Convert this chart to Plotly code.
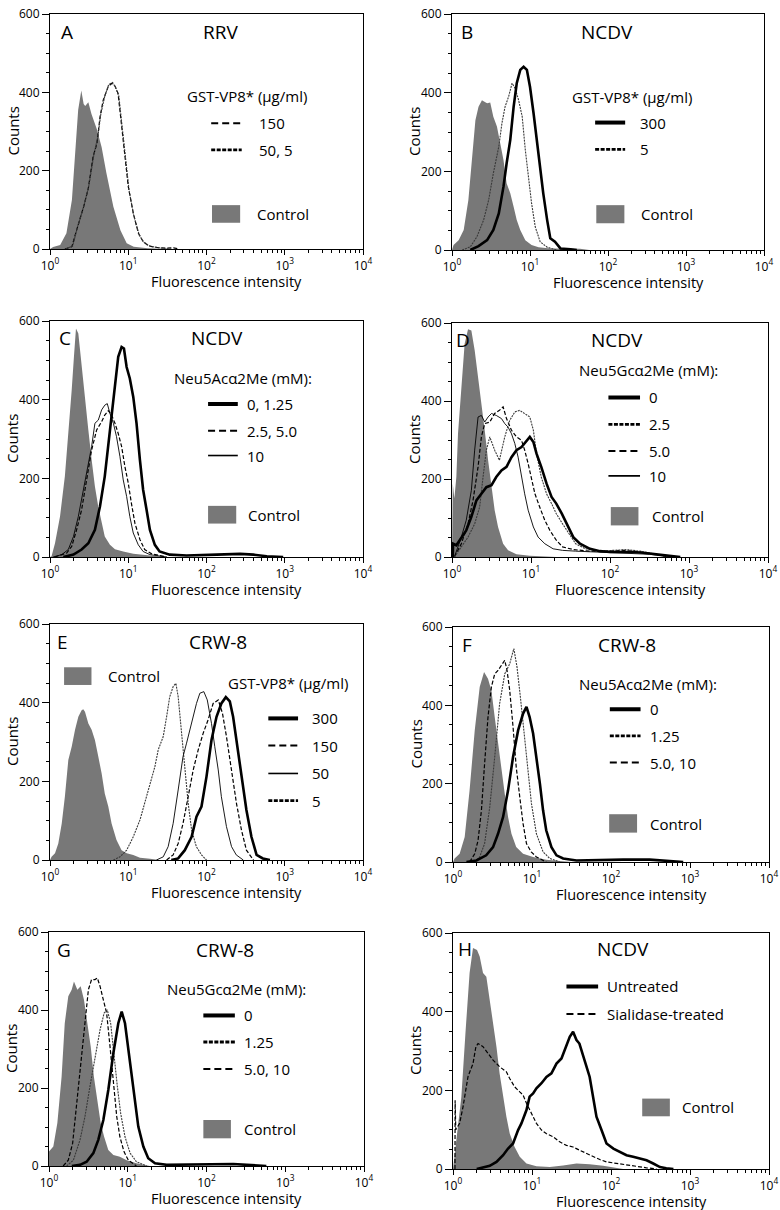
import plotly.graph_objects as go

# ---------------- DATA (log10 fluorescence, counts) ----------------
A_control = [(0.00,0),(0.04,5),(0.13,10),(0.21,40),(0.28,125),(0.32,250),(0.36,355),(0.40,405),(0.43,370),(0.45,365),(0.49,375),(0.53,345),(0.60,305),(0.66,260),(0.72,195),(0.81,108),(0.90,48),(0.98,15),(1.07,6),(1.25,2),(1.50,0)]
A_150 = [(0.19,0),(0.28,6),(0.34,48),(0.43,108),(0.49,155),(0.55,235),(0.60,270),(0.64,338),(0.68,380),(0.745,415),(0.79,423),(0.83,416),(0.87,397),(0.92,312),(0.96,236),(1.00,160),(1.065,91),(1.13,40),(1.19,19),(1.26,8),(1.36,4),(1.49,2),(1.58,3),(1.65,0)]
A_50_5 = [(0.20,0),(0.29,8),(0.35,55),(0.44,115),(0.50,165),(0.56,240),(0.61,285),(0.65,345),(0.70,390),(0.75,420),(0.80,425),(0.84,412),(0.88,390),(0.93,300),(0.97,225),(1.01,150),(1.07,85),(1.14,36),(1.20,17),(1.28,7),(1.40,3),(1.55,0)]

B_control = [(0.00,0),(0.02,13),(0.085,25),(0.15,51),(0.21,127),(0.256,237),(0.30,330),(0.34,364),(0.384,381),(0.405,378),(0.45,373),(0.49,375),(0.53,339),(0.576,314),(0.62,271),(0.66,229),(0.70,170),(0.747,144),(0.79,110),(0.83,76),(0.875,51),(0.94,25),(1.02,13),(1.11,7),(1.26,4),(1.64,3),(1.76,0)]
B_5 = [(0.13,0),(0.235,8),(0.32,34),(0.405,76),(0.47,127),(0.53,195),(0.60,263),(0.64,322),(0.68,364),(0.726,390),(0.77,424),(0.81,411),(0.854,381),(0.90,339),(0.94,254),(0.98,186),(1.02,119),(1.067,59),(1.13,21),(1.22,7),(1.35,0)]
B_300 = [(0.235,0),(0.34,10),(0.45,25),(0.53,51),(0.60,93),(0.66,161),(0.70,220),(0.747,280),(0.79,364),(0.83,424),(0.875,458),(0.918,466),(0.96,458),(1.00,415),(1.046,347),(1.09,271),(1.13,212),(1.17,144),(1.22,76),(1.26,30),(1.32,21),(1.39,4),(1.52,2),(1.60,0)]

C_control = [(0.00,0),(0.02,2),(0.064,35),(0.128,103),(0.19,205),(0.234,306),(0.277,424),(0.306,509),(0.332,581),(0.362,568),(0.404,483),(0.447,399),(0.49,323),(0.532,247),(0.574,179),(0.617,128),(0.66,86),(0.70,52),(0.766,31),(0.83,20),(0.936,14),(1.064,8),(1.28,4),(1.49,0)]
C_10 = [(0.04,0),(0.15,6),(0.234,19),(0.30,52),(0.362,103),(0.425,171),(0.477,230),(0.532,281),(0.574,340),(0.617,348),(0.66,374),(0.70,386),(0.732,390),(0.766,365),(0.81,340),(0.85,306),(0.894,255),(0.936,196),(0.979,154),(1.02,103),(1.064,61),(1.128,31),(1.19,14),(1.277,6),(1.49,0)]
C_2_5 = [(0.06,0),(0.213,10),(0.277,27),(0.34,69),(0.404,120),(0.468,196),(0.532,272),(0.596,323),(0.66,344),(0.70,361),(0.745,372),(0.787,361),(0.83,340),(0.872,314),(0.915,281),(0.957,230),(1.0,188),(1.04,137),(1.085,86),(1.15,44),(1.21,19),(1.30,8),(1.49,0)]
C_0 = [(0.17,0),(0.30,6),(0.404,19),(0.49,35),(0.574,69),(0.638,128),(0.70,205),(0.766,323),(0.83,433),(0.872,509),(0.915,534),(0.945,530),(0.979,483),(1.02,454),(1.064,407),(1.106,340),(1.149,247),(1.19,171),(1.234,120),(1.277,69),(1.34,31),(1.40,14),(1.53,6),(1.745,4),(2.13,6),(2.43,8),(2.6,6),(2.77,2),(2.98,0)]

D_control = [(0.00,0),(0.01,188),(0.03,150),(0.055,205),(0.076,316),(0.118,444),(0.16,547),(0.203,584),(0.245,581),(0.287,530),(0.33,461),(0.372,402),(0.414,325),(0.457,248),(0.50,179),(0.54,120),(0.583,77),(0.647,34),(0.71,17),(0.816,7),(0.985,3),(1.32,0)]
D_0 = [(0.01,0),(0.013,34),(0.055,30),(0.118,51),(0.18,68),(0.245,103),(0.309,145),(0.372,162),(0.435,179),(0.50,184),(0.56,205),(0.626,222),(0.69,231),(0.753,256),(0.816,274),(0.88,282),(0.943,299),(0.985,308),(1.03,295),(1.07,265),(1.13,231),(1.197,188),(1.26,154),(1.32,137),(1.39,111),(1.45,85),(1.535,51),(1.62,34),(1.746,21),(1.873,15),(2.0,13),(2.17,13),(2.3,13),(2.42,11),(2.59,7),(2.8,3),(2.89,0)]
D_2_5 = [(0.03,0),(0.118,26),(0.203,51),(0.287,85),(0.35,128),(0.393,205),(0.435,274),(0.478,308),(0.54,274),(0.60,248),(0.668,308),(0.73,350),(0.795,372),(0.858,376),(0.92,368),(0.985,359),(1.03,325),(1.07,265),(1.13,205),(1.197,162),(1.26,137),(1.32,111),(1.40,85),(1.48,60),(1.565,34),(1.69,21),(1.87,15),(2.04,17),(2.21,19),(2.38,15),(2.55,9),(2.76,0)]
D_5 = [(0.03,0),(0.118,34),(0.203,85),(0.266,145),(0.33,231),(0.372,308),(0.414,342),(0.478,346),(0.54,368),(0.60,376),(0.647,385),(0.69,355),(0.753,325),(0.816,308),(0.88,299),(0.92,274),(0.964,239),(1.006,205),(1.05,162),(1.11,128),(1.175,94),(1.24,68),(1.32,43),(1.40,26),(1.535,19),(1.746,15),(1.96,15),(2.17,17),(2.38,13),(2.59,6),(2.76,0)]
D_10 = [(0.03,0),(0.118,51),(0.18,94),(0.245,171),(0.287,274),(0.33,359),(0.372,363),(0.414,346),(0.457,359),(0.50,368),(0.56,363),(0.626,355),(0.668,342),(0.71,333),(0.753,316),(0.795,291),(0.837,256),(0.88,205),(0.92,162),(0.964,120),(1.03,77),(1.09,51),(1.175,34),(1.28,21),(1.40,17),(1.565,15),(1.82,13),(2.17,11),(2.5,7),(2.76,0)]

E_control = [(0.00,0),(0.02,8),(0.064,17),(0.106,42),(0.15,93),(0.19,161),(0.234,254),(0.277,288),(0.32,331),(0.362,364),(0.404,381),(0.425,383),(0.447,377),(0.49,347),(0.532,331),(0.574,305),(0.617,263),(0.66,220),(0.70,169),(0.745,136),(0.787,93),(0.85,51),(0.915,25),(0.98,17),(1.064,13),(1.15,6),(1.277,3),(1.40,0)]
E_5 = [(0.81,0),(0.894,8),(0.98,25),(1.064,59),(1.15,102),(1.21,144),(1.277,186),(1.34,237),(1.383,280),(1.447,314),(1.49,364),(1.53,415),(1.574,441),(1.609,449),(1.638,415),(1.68,331),(1.723,246),(1.766,144),(1.81,76),(1.87,34),(1.936,13),(2.0,0)]
E_50 = [(1.36,0),(1.447,8),(1.51,34),(1.574,93),(1.638,178),(1.70,263),(1.745,297),(1.787,331),(1.83,364),(1.872,398),(1.915,424),(1.966,428),(2.01,407),(2.064,347),(2.106,288),(2.15,229),(2.19,161),(2.255,85),(2.32,34),(2.38,13),(2.47,0)]
E_150 = [(1.49,0),(1.574,13),(1.638,42),(1.70,93),(1.766,161),(1.83,229),(1.894,280),(1.957,322),(2.02,356),(2.085,398),(2.15,407),(2.204,373),(2.255,314),(2.32,229),(2.383,144),(2.447,76),(2.51,25),(2.6,0)]
E_300 = [(1.55,0),(1.638,4),(1.723,25),(1.81,59),(1.872,110),(1.936,136),(2.0,212),(2.064,305),(2.128,364),(2.19,398),(2.247,414),(2.298,403),(2.34,364),(2.39,297),(2.447,212),(2.51,127),(2.574,59),(2.64,13),(2.72,4),(2.81,0)]

F_control = [(0.00,0),(0.02,9),(0.084,21),(0.148,64),(0.21,183),(0.275,336),(0.338,447),(0.393,485),(0.443,468),(0.486,438),(0.528,370),(0.57,302),(0.61,234),(0.655,174),(0.697,115),(0.74,72),(0.80,38),(0.887,21),(1.014,13),(1.18,6),(1.39,2),(1.5,0)]
F_5_10 = [(0.21,0),(0.275,21),(0.317,55),(0.36,132),(0.40,251),(0.443,370),(0.486,447),(0.528,480),(0.57,489),(0.61,502),(0.655,515),(0.684,489),(0.718,438),(0.76,345),(0.80,243),(0.845,166),(0.887,98),(0.93,47),(0.99,26),(1.056,13),(1.18,0)]
F_1_25 = [(0.275,0),(0.338,13),(0.40,47),(0.465,140),(0.528,268),(0.59,404),(0.655,480),(0.718,506),(0.77,545),(0.81,498),(0.853,421),(0.895,336),(0.938,243),(0.993,149),(1.056,72),(1.14,26),(1.225,9),(1.35,0)]
F_0 = [(0.17,0),(0.296,4),(0.42,17),(0.507,38),(0.57,72),(0.634,115),(0.697,183),(0.76,268),(0.824,336),(0.887,379),(0.93,396),(0.97,370),(1.014,328),(1.056,268),(1.10,200),(1.14,132),(1.18,81),(1.246,38),(1.31,17),(1.394,9),(1.563,4),(2.154,6),(2.49,6),(2.914,0)]

G_control = [(0.00,37),(0.055,50),(0.106,110),(0.16,229),(0.20,366),(0.245,435),(0.288,452),(0.317,473),(0.36,452),(0.402,461),(0.444,426),(0.487,366),(0.53,306),(0.57,229),(0.614,161),(0.656,110),(0.70,75),(0.753,41),(0.817,28),(0.90,24),(0.986,15),(1.11,7),(1.28,0)]
G_5_10 = [(0.18,0),(0.245,15),(0.30,58),(0.35,161),(0.406,272),(0.457,383),(0.50,452),(0.54,478),(0.584,478),(0.614,482),(0.648,461),(0.69,426),(0.732,392),(0.775,306),(0.817,212),(0.86,127),(0.90,75),(0.952,37),(1.007,15),(1.11,0)]
G_1_25 = [(0.224,0),(0.31,15),(0.394,67),(0.457,127),(0.52,204),(0.584,281),(0.648,349),(0.70,392),(0.74,400),(0.783,366),(0.825,281),(0.868,204),(0.91,135),(0.965,75),(1.03,33),(1.11,11),(1.24,0)]
G_0 = [(0.29,0),(0.394,3),(0.478,11),(0.563,33),(0.626,67),(0.69,118),(0.753,195),(0.817,289),(0.88,366),(0.923,396),(0.965,366),(1.007,298),(1.05,229),(1.092,161),(1.134,101),(1.198,50),(1.26,20),(1.346,7),(1.494,3),(2.34,5),(2.76,0)]

H_control = [(0.00,0),(0.042,73),(0.106,184),(0.16,353),(0.21,498),(0.253,562),(0.304,557),(0.338,540),(0.38,498),(0.422,489),(0.465,430),(0.507,370),(0.55,311),(0.59,243),(0.634,184),(0.676,133),(0.718,90),(0.78,56),(0.845,31),(0.93,14),(1.056,7),(1.225,5),(1.394,9),(1.563,14),(1.73,12),(1.90,8),(2.154,0)]
H_sialidase = [(0.025,0),(0.027,175),(0.035,100),(0.084,116),(0.127,158),(0.19,235),(0.253,268),(0.29,311),(0.317,319),(0.38,311),(0.443,294),(0.507,277),(0.59,260),(0.676,247),(0.718,230),(0.78,209),(0.845,196),(0.887,188),(0.93,167),(0.993,141),(1.056,116),(1.12,99),(1.18,90),(1.267,82),(1.35,69),(1.436,60),(1.52,56),(1.60,48),(1.69,39),(1.774,31),(1.858,24),(1.943,18),(2.07,14),(2.20,9),(2.323,7),(2.45,3),(2.577,0)]
H_untreated = [(0.30,0),(0.38,3),(0.465,8),(0.55,18),(0.634,35),(0.697,52),(0.76,65),(0.824,99),(0.866,116),(0.93,150),(0.97,184),(1.014,192),(1.056,205),(1.12,218),(1.183,234),(1.246,243),(1.31,268),(1.373,281),(1.43,311),(1.478,336),(1.52,349),(1.563,328),(1.60,319),(1.647,285),(1.69,260),(1.73,234),(1.774,184),(1.816,133),(1.88,99),(1.943,65),(2.03,52),(2.11,43),(2.196,35),(2.28,31),(2.365,26),(2.45,22),(2.534,14),(2.62,5),(2.70,2),(2.79,0)]

X_TICKS = [1, 10, 100, 1000, 10000]
X_TICKTEXT = ["10<sup>0</sup>", "10<sup>1</sup>", "10<sup>2</sup>", "10<sup>3</sup>", "10<sup>4</sup>"]
X_MINOR = [m * d for d in (1, 10, 100, 1000) for m in range(2, 10)]
Y_TICKS = [0, 200, 400, 600]

# ---------------- PANEL SPECS ----------------
# box: plot area in pixels (x0, x1, y0, y1)
PANELS = [
    dict(letter="A", title="RRV", box=(50, 363, 14, 249), lt=(0.12, 553), tt=(2.18, 553),
         control=A_control, curves=[(A_150, "dash"), (A_50_5, "dot")],
         leg_title=("GST-VP8* (μg/ml)", 2.52, 390), leg_x=(2.06, 2.45, 2.64),
         entries=[("dash", 321, "150"), ("dot", 253, "50, 5")],
         ctrl=(2.07, 2.43, 67, 112, 2.62, 90)),
    dict(letter="B", title="NCDV", box=(452, 764, 14, 250), lt=(0.085, 553), tt=(1.99, 553),
         control=B_control, curves=[(B_5, "dot"), (B_300, "thick")],
         leg_title=("GST-VP8* (μg/ml)", 2.305, 390), leg_x=(1.835, 2.22, 2.39),
         entries=[("thick", 324, "300"), ("dot", 256, "5")],
         ctrl=(1.85, 2.21, 68, 114, 2.40, 91)),
    dict(letter="C", title="NCDV", box=(50, 363, 321, 557), lt=(0.085, 558), tt=(2.13, 558),
         control=C_control, curves=[(C_10, "thin"), (C_2_5, "dash"), (C_0, "thick")],
         leg_title=("Neu5Acα2Me (mM):", 2.47, 456), leg_x=(2.02, 2.40, 2.49),
         entries=[("thick", 389, "0, 1.25"), ("dash", 321, "2.5, 5.0"), ("thin", 258, "10")],
         ctrl=(2.02, 2.38, 85, 130, 2.50, 108)),
    dict(letter="D", title="NCDV", box=(452, 768, 323, 557), lt=(0.02, 557), tt=(2.085, 557),
         control=D_control, curves=[(D_10, "thin"), (D_5, "dash"), (D_2_5, "dot"), (D_0, "thick")],
         leg_title=("Neu5Gcα2Me (mM):", 2.486, 479), leg_x=(1.98, 2.38, 2.465),
         entries=[("thick", 409, "0"), ("dot", 340, "2.5"), ("dash", 272, "5.0"), ("thin", 208, "10")],
         ctrl=(2.01, 2.36, 81, 128, 2.50, 105)),
    dict(letter="E", title="CRW-8", box=(50, 363, 624, 860), lt=(0.064, 555), tt=(2.15, 555),
         control=E_control, curves=[(E_5, "dot"), (E_50, "thin"), (E_150, "dash"), (E_300, "thick")],
         leg_title=("GST-VP8* (μg/ml)", 3.04, 451), leg_x=(2.79, 3.17, 3.32),
         entries=[("thick", 360, "300"), ("dash", 291, "150"), ("thin", 220, "50"), ("dot", 151, "5")],
         ctrl=(0.18, 0.53, 445, 490, 0.72, 467)),
    dict(letter="F", title="CRW-8", box=(453, 769, 627, 862), lt=(0.084, 553), tt=(2.2, 553),
         control=F_control, curves=[(F_5_10, "dash"), (F_1_25, "dot"), (F_0, "thick")],
         leg_title=("Neu5Acα2Me (mM):", 2.47, 454), leg_x=(1.985, 2.374, 2.47),
         entries=[("thick", 390, "0"), ("dot", 322, "1.25"), ("dash", 254, "5.0, 10")],
         ctrl=(1.977, 2.33, 75, 122, 2.47, 98)),
    dict(letter="G", title="CRW-8", box=(49, 364, 932, 1166), lt=(0.076, 555), tt=(2.235, 555),
         control=G_control, curves=[(G_5_10, "dash"), (G_1_25, "dot"), (G_0, "thick")],
         leg_title=("Neu5Gcα2Me (mM):", 2.383, 455), leg_x=(1.96, 2.36, 2.447),
         entries=[("thick", 386, "0"), ("dot", 318, "1.25"), ("dash", 249, "5.0, 10")],
         ctrl=(1.96, 2.31, 71, 118, 2.447, 95)),
    dict(letter="H", title="NCDV", box=(453, 769, 933, 1169), lt=(0.042, 559), tt=(2.154, 559),
         control=H_control, curves=[(H_sialidase, "dash"), (H_untreated, "thick")],
         leg_title=None, leg_x=(1.436, 1.837, 1.92),
         entries=[("thick", 464, "Untreated"), ("dash", 394, "Sialidase-treated")],
         ctrl=(2.395, 2.745, 134, 179, 2.87, 157)),
]

W, H = 780, 1210
FONT = "Open Sans"
CURVE_STYLE = {
    "thick": dict(width=2.6, dash="solid", color="black"),
    "dash": dict(width=1.2, dash="4px,2px", color="black"),
    "dot": dict(width=1.1, dash="2px,1px", color="#3a3a3a"),
    "thin": dict(width=0.9, dash="solid", color="black"),
}
LEG_STYLE = {
    "thick": dict(width=4, dash="solid", color="black"),
    "dash": dict(width=2, dash="7px,4px", color="black"),
    "dot": dict(width=2.8, dash="4px,1.5px", color="black"),
    "thin": dict(width=1.6, dash="solid", color="black"),
}
CTRL_COLOR = "#787878"

fig = go.Figure()
shapes, annotations = [], []

for i, p in enumerate(PANELS):
    n = i + 1
    sx = "" if n == 1 else str(n)
    xref, yref = "x" + sx, "y" + sx
    x0, x1, y0, y1 = p["box"]

    # control histogram (filled)
    fig.add_trace(go.Scatter(
        x=[10 ** lx for lx, _ in p["control"]], y=[c for _, c in p["control"]],
        mode="lines", fill="tozeroy", fillcolor=CTRL_COLOR,
        line=dict(width=0, color=CTRL_COLOR), xaxis=xref, yaxis=yref, showlegend=False))
    for pts, sty in p["curves"]:
        fig.add_trace(go.Scatter(
            x=[10 ** lx for lx, _ in pts], y=[c for _, c in pts],
            mode="lines", line=CURVE_STYLE[sty], xaxis=xref, yaxis=yref, showlegend=False))

    fig.layout["xaxis" + sx] = dict(
        domain=[x0 / W, x1 / W], anchor=yref, type="log", range=[0, 4],
        tickmode="array", tickvals=X_TICKS, ticktext=X_TICKTEXT,
        ticks="outside", ticklen=5, tickwidth=1, tickcolor="black",
        minor=dict(tickmode="array", tickvals=X_MINOR, ticks="outside", ticklen=3, tickcolor="black"),
        showline=True, linecolor="black", linewidth=1.2, mirror=True,
        showgrid=False, zeroline=False, automargin=False,
        tickfont=dict(family=FONT, size=12, color="black"))
    fig.layout["yaxis" + sx] = dict(
        domain=[1 - y1 / H, 1 - y0 / H], anchor=xref, range=[0, 600],
        tickmode="array", tickvals=Y_TICKS,
        ticks="outside", ticklen=7, tickwidth=1, tickcolor="black",
        minor=dict(dtick=50, tick0=0, ticks="outside", ticklen=3, tickcolor="black"),
        showline=True, linecolor="black", linewidth=1.2, mirror=True,
        showgrid=False, zeroline=False, automargin=False,
        tickfont=dict(family=FONT, size=12, color="black"))

    xd, yd = xref + " domain", yref + " domain"
    txt = dict(family=FONT, size=15, color="black")
    big = dict(family=FONT, size=19, color="black")

    # axis titles
    annotations.append(dict(text="Fluorescence intensity", xref="paper", yref="paper",
                            x=((x0 + x1) / 2 + 20) / W, y=1 - (y1 + 32) / H,
                            showarrow=False, font=dict(family=FONT, size=14.5, color="black"),
                            xanchor="center", yanchor="middle"))
    annotations.append(dict(text="Counts", xref="paper", yref="paper",
                            x=(x0 - 38) / W, y=1 - ((y0 + y1) / 2) / H, textangle=-90,
                            showarrow=False, font=txt, xanchor="center", yanchor="middle"))
    # panel letter and title
    annotations.append(dict(text=p["letter"], xref=xd, yref=yd, x=p["lt"][0] / 4, y=p["lt"][1] / 600,
                            showarrow=False, font=big, xanchor="left", yanchor="middle"))
    annotations.append(dict(text=p["title"], xref=xd, yref=yd, x=p["tt"][0] / 4, y=p["tt"][1] / 600,
                            showarrow=False, font=big, xanchor="center", yanchor="middle"))
    # legend
    if p["leg_title"]:
        t, lx, ly = p["leg_title"]
        annotations.append(dict(text=t, xref=xd, yref=yd, x=lx / 4, y=ly / 600,
                                showarrow=False, font=txt, xanchor="center", yanchor="middle"))
    la, lb, lt = p["leg_x"]
    for sty, ly, label in p["entries"]:
        shapes.append(dict(type="line", xref=xd, yref=yd, x0=la / 4, x1=lb / 4,
                           y0=ly / 600, y1=ly / 600, line=LEG_STYLE[sty]))
        annotations.append(dict(text=label, xref=xd, yref=yd, x=lt / 4, y=ly / 600,
                                showarrow=False, font=txt, xanchor="left", yanchor="middle"))
    ca, cb, cl, ch, ctx, cty = p["ctrl"]
    shapes.append(dict(type="rect", xref=xd, yref=yd, x0=ca / 4, x1=cb / 4,
                       y0=cl / 600, y1=ch / 600, fillcolor=CTRL_COLOR, line=dict(width=0)))
    annotations.append(dict(text="Control", xref=xd, yref=yd, x=ctx / 4, y=cty / 600,
                            showarrow=False, font=txt, xanchor="left", yanchor="middle"))

fig.update_layout(
    width=W, height=H, margin=dict(l=0, r=0, t=0, b=0),
    paper_bgcolor="white", plot_bgcolor="white",
    shapes=shapes, annotations=annotations, showlegend=False,
    font=dict(family=FONT, color="black"),
)

fig.write_html("out.html", config={"displayModeBar": False},
               post_script="document.body.style.margin='0';document.body.style.overflow='hidden';")
